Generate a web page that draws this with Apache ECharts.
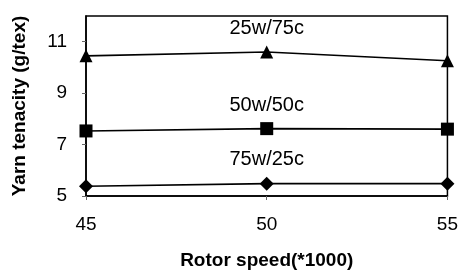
<!DOCTYPE html>
<html>
<head>
<meta charset="utf-8">
<script src="https://cdn.jsdelivr.net/npm/echarts@6/dist/echarts.min.js"></script>
<style>
html, body { margin: 0; padding: 0; background: #fff; }
#chart { width: 461px; height: 275px; }
</style>
</head>
<body>
<div id="chart"></div>
<script>
var speeds = [45, 50, 55];
var blend25w = [10.45, 10.6, 10.26];
var blend50w = [7.53, 7.62, 7.6];
var blend75w = [5.38, 5.48, 5.48];
var seriesNames = ['25w/75c', '50w/50c', '75w/25c'];
var symbols = ['triangle', 'rect', 'diamond'];
var yTicks = [5, 7, 9, 11];

var chart = echarts.init(document.getElementById('chart'));
var font = 'Liberation Sans, Arial, sans-serif';

function makeSeries(name, values, symbol) {
	var data = [];
	for (var i = 0; i < speeds.length; i++) {
		var item = { value: [speeds[i], values[i]] };
		// label sits over the middle point
		if (i === 1) {
			item.label = {
				show: true,
				position: 'top',
				distance: 7,
				formatter: name,
				color: '#000',
				fontSize: 20,
				fontFamily: font
			};
		}
		data.push(item);
	}
	return {
		name: name,
		type: 'line',
		data: data,
		symbol: symbol,
		symbolSize: symbol === 'diamond' ? 14 : 13,
		itemStyle: { color: '#000' },
		lineStyle: { color: '#000', width: 1.6 },
		animation: false
	};
}

var option = {
	backgroundColor: '#fff',
	grid: {
		left: 86,
		right: 12,
		top: 16,
		bottom: 78,
		show: true,
		borderColor: '#000',
		borderWidth: 1.5
	},
	xAxis: {
		type: 'value',
		min: 45,
		max: 55,
		interval: 5,
		name: 'Rotor speed(*1000)',
		nameLocation: 'middle',
		nameGap: 55,
		nameTextStyle: {
			color: '#000',
			fontSize: 19,
			fontWeight: 'bold',
			fontFamily: font
		},
		axisLine: { lineStyle: { color: '#000', width: 1.5 } },
		axisTick: { length: 4, lineStyle: { color: '#666' } },
		axisLabel: {
			color: '#000',
			fontSize: 19,
			margin: 19,
			fontFamily: font
		},
		splitLine: { show: false }
	},
	yAxis: {
		type: 'value',
		min: 5,
		max: 12,
		interval: 2,
		name: 'Yarn tenacity (g/tex)',
		nameLocation: 'middle',
		nameGap: 57,
		nameTextStyle: {
			color: '#000',
			fontSize: 19,
			fontWeight: 'bold',
			fontFamily: font
		},
		axisLine: { show: true, lineStyle: { color: '#000', width: 1.5 } },
		axisTick: { show: true, length: 4, lineStyle: { color: '#666' } },
		axisLabel: {
			color: '#000',
			fontSize: 19,
			margin: 19,
			fontFamily: font,
			showMaxLabel: false,
			formatter: function (v) {
				return yTicks.indexOf(v) >= 0 ? String(v) : '';
			}
		},
		splitLine: { show: false }
	},
	series: [
		makeSeries(seriesNames[0], blend25w, symbols[0]),
		makeSeries(seriesNames[1], blend50w, symbols[1]),
		makeSeries(seriesNames[2], blend75w, symbols[2])
	]
};

chart.setOption(option);
</script>
</body>
</html>
